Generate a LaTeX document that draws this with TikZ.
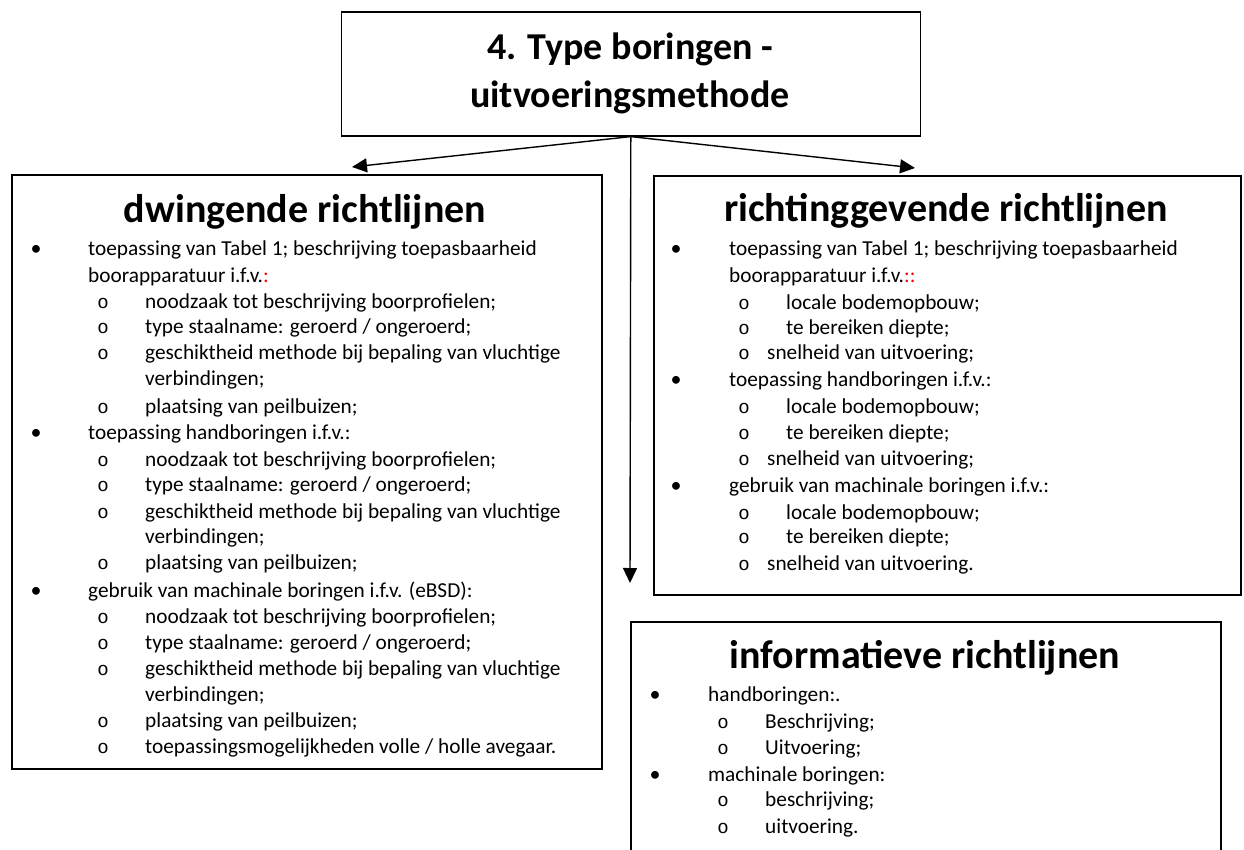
\documentclass[tikz,border=0pt]{standalone}
\usepackage{fontspec}
\setmainfont{Carlito}
\newfontfamily\monof{Liberation Mono}
\usetikzlibrary{arrows.meta}
\newcommand\itm[5]{\node[bul] (#1-b) at (#2,#4) {\textbullet}; \node[txt] (#1) at (#3,#4) {#5};}
\newcommand\sitm[5]{\node[sbul] (#1-b) at (#2,#4) {o}; \node[txt] (#1) at (#3,#4) {#5};}
\newcommand\cnt[4]{\node[txt] (#1) at (#2,#3) {#4};}
\tikzset{
  box/.style={draw, line width=1.6pt, anchor=north west, inner sep=0pt},
  txt/.style={anchor=base west, inner sep=0pt, font=\fontsize{21.3}{26}\selectfont},
  bul/.style={anchor=base, inner sep=0pt, font=\fontsize{22}{26}\selectfont},
  sbul/.style={anchor=base, inner sep=0pt, font=\monof\fontsize{19}{26}\selectfont},
  ttl/.style={anchor=base, inner sep=0pt, font=\bfseries\fontsize{40}{48}\selectfont},
  arr/.style={line width=1.4pt, -{Triangle[length=15pt,width=14pt]}}
}
\begin{document}
\begin{tikzpicture}[x=1pt,y=-1pt]
\useasboundingbox (0,0) rectangle (1244,850);
% boxes
\node[box, minimum width=579pt, minimum height=124pt] (top) at (340.5,11) {};
\node[anchor=base, inner sep=0pt, font=\bfseries\fontsize{38}{48}\selectfont] (top1) at (630,60) {4. Type boringen -};
\node[anchor=base, inner sep=0pt, font=\bfseries\fontsize{38}{48}\selectfont] (top2) at (630,108) {uitvoeringsmethode};
\node[box, minimum width=590pt, minimum height=594pt] (left) at (11,174) {};
\node[box, minimum width=587pt, minimum height=419pt] (right) at (653,175) {};
\node[box, minimum width=590pt, minimum height=270pt] (info) at (630,621) {};
% arrows
\coordinate (lt) at (352,167);
\coordinate (rt) at (915,168);
\coordinate (vt) at (630,583);
\draw[arr] (top.south) -- (lt);
\draw[arr] (top.south) -- (rt);
\draw[arr] (top.south) -- (vt);
% left box
\node[ttl] (lttl) at (305,223) {dwingende richtlijnen};
\itm{L1}{36}{88}{256}{toepassing van Tabel 1; beschrijving toepasbaarheid}
\cnt{L2}{88}{282}{boorapparatuur i.f.v.\textcolor{red}{:}}
\sitm{L3}{103}{145}{308}{noodzaak tot beschrijving boorprofielen;}
\sitm{L4}{103}{145}{333}{type staalname: geroerd / ongeroerd;}
\sitm{L5}{103}{145}{359}{geschiktheid methode bij bepaling van vluchtige}
\cnt{L6}{145}{385}{verbindingen;}
\sitm{L7}{103}{145}{413}{plaatsing van peilbuizen;}
\itm{L8}{36}{88}{439}{toepassing handboringen i.f.v.:}
\sitm{L9}{103}{145}{466}{noodzaak tot beschrijving boorprofielen;}
\sitm{L10}{103}{145}{491}{type staalname: geroerd / ongeroerd;}
\sitm{L11}{103}{145}{518}{geschiktheid methode bij bepaling van vluchtige}
\cnt{L12}{145}{543}{verbindingen;}
\sitm{L13}{103}{145}{569}{plaatsing van peilbuizen;}
\itm{L14}{36}{88}{597}{gebruik van machinale boringen i.f.v. (eBSD):}
\sitm{L15}{103}{145}{623}{noodzaak tot beschrijving boorprofielen;}
\sitm{L16}{103}{145}{649}{type staalname: geroerd / ongeroerd;}
\sitm{L17}{103}{145}{675}{geschiktheid methode bij bepaling van vluchtige}
\cnt{L18}{145}{701}{verbindingen;}
\sitm{L19}{103}{145}{727}{plaatsing van peilbuizen;}
\sitm{L20}{103}{145}{753}{toepassingsmogelijkheden volle / holle avegaar.}
% right box
\node[ttl] (rttl) at (946,222) {richtinggevende richtlijnen};
\itm{R1}{676}{729}{255}{toepassing van Tabel 1; beschrijving toepasbaarheid}
\cnt{R2}{729}{282}{boorapparatuur i.f.v.\textcolor{red}{::}}
\sitm{R3}{744}{786}{309}{locale bodemopbouw;}
\sitm{R4}{744}{786}{334}{te bereiken diepte;}
\sitm{R5}{744}{767}{359}{snelheid van uitvoering;}
\itm{R6}{676}{729}{386}{toepassing handboringen i.f.v.:}
\sitm{R7}{744}{786}{413}{locale bodemopbouw;}
\sitm{R8}{744}{786}{439}{te bereiken diepte;}
\sitm{R9}{744}{767}{465}{snelheid van uitvoering;}
\itm{R10}{676}{729}{492}{gebruik van machinale boringen i.f.v.:}
\sitm{R11}{744}{786}{519}{locale bodemopbouw;}
\sitm{R12}{744}{786}{543}{te bereiken diepte;}
\sitm{R13}{744}{767}{570}{snelheid van uitvoering.}
% info box
\node[ttl] (ittl) at (925,668) {informatieve richtlijnen};
\itm{I1}{655}{708}{701}{handboringen:.}
\sitm{I2}{723}{765}{728}{Beschrijving;}
\sitm{I3}{723}{765}{754}{Uitvoering;}
\itm{I4}{655}{708}{781}{machinale boringen:}
\sitm{I5}{723}{765}{806}{beschrijving;}
\sitm{I6}{723}{765}{833}{uitvoering.}
\end{tikzpicture}
\end{document}
